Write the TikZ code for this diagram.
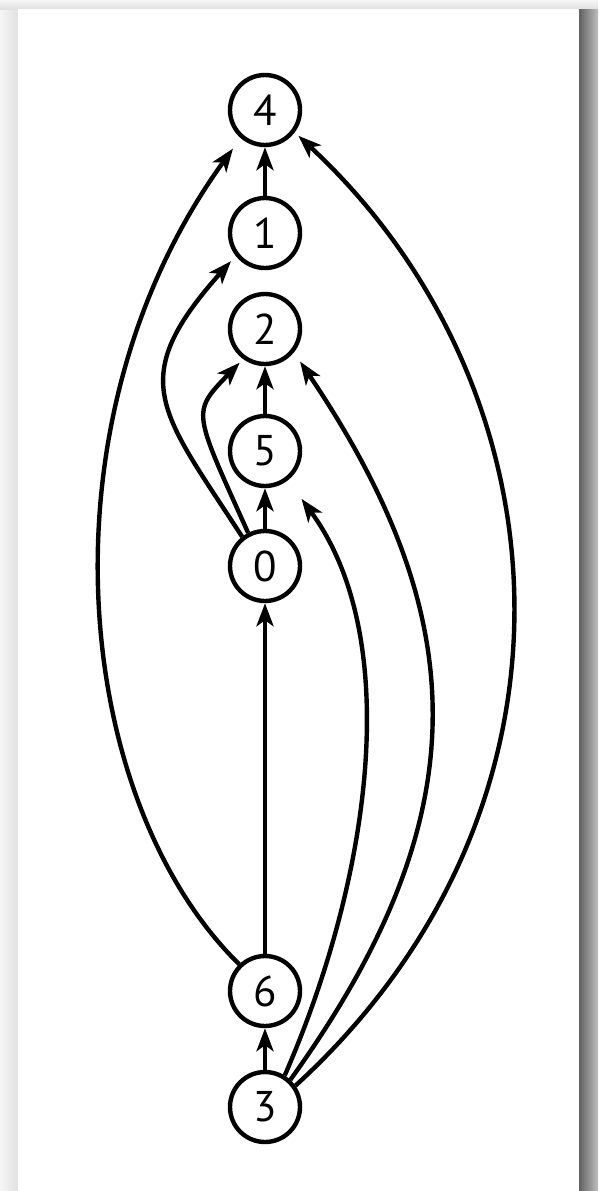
\documentclass[tikz,border=0pt]{standalone}
\usepackage{fontspec}
\setmainfont{PT Sans}
\usetikzlibrary{arrows.meta}
\begin{document}
\begin{tikzpicture}[x=1pt,y=-1pt,
  vtx/.style={circle,draw,line width=4.4pt,minimum size=70pt,inner sep=0pt,font=\fontsize{43}{43}\selectfont},
  arr/.style={line width=4.4pt,-{Stealth[length=23pt,width=17pt,inset=6pt]}}]
\useasboundingbox (0,0) rectangle (598,1191);
\fill[gray!12] (0,0) rectangle (598,1191);
\shade[left color=gray!7,right color=gray!24] (0,0) rectangle (18,1191);
\shade[top color=gray!7,bottom color=gray!24] (0,0) rectangle (598,9);
\shade[left color=black!62,right color=black!25] (579,9) rectangle (598,1191);
\fill[white] (18,9) rectangle (579,1191);

\node[vtx] (n4) at (265,110) {4};
\node[vtx] (n1) at (265,233) {1};
\node[vtx] (n2) at (265,329) {2};
\node[vtx] (n5) at (265,451) {5};
\node[vtx] (n0) at (265,566) {0};
\node[vtx] (n6) at (265,991) {6};
\node[vtx] (n3) at (265,1107) {3};

\draw[arr] (n1) -- (n4);
\draw[arr] (n5) -- (n2);
\draw[arr] (n0) -- (n5);
\draw[arr] (n6) -- (n0);
\draw[arr] (n3) -- (n6);

\draw[arr,shorten >=7pt] (n0.128) .. controls (160,410) and (125,380) .. (n1.218);
\draw[arr,shorten >=5pt] (n0.117) .. controls (193,410) and (191,413) .. (n2.234);
\draw[arr,shorten >=13pt] (n6.134) .. controls (72,800) and (36,420) .. (n4.229);
\draw[arr,shorten >=23pt] (n3.58) .. controls (370,880) and (405,640) .. (n5.-52);
\draw[arr,shorten >=11pt] (n3.47) .. controls (478,819) and (476,622) .. (n2.-39);
\draw[arr,shorten >=5pt] (n3.35) .. controls (601,806) and (569,387) .. (n4.-37);
\end{tikzpicture}
\end{document}
